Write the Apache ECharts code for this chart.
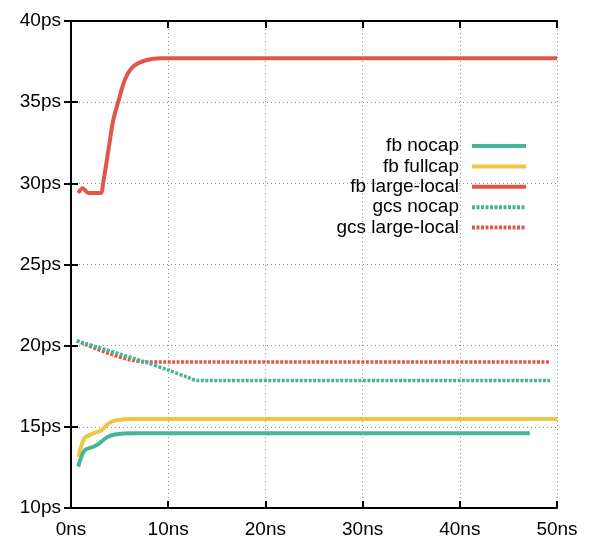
<!DOCTYPE html>
<html>
<head>
<meta charset="utf-8">
<script src="https://cdn.jsdelivr.net/npm/echarts@6/dist/echarts.min.js"></script>
<style>
  html, body { margin: 0; padding: 0; background: #fff; }
  #chart { width: 598px; height: 551px; }
</style>
</head>
<body>
<div id="chart"></div>
<script>
// values: [time in ns, latency in ps]
var xTicks = ['0ns', '10ns', '20ns', '30ns', '40ns', '50ns']
var yTicks = ['10ps', '15ps', '20ps', '25ps', '30ps', '35ps', '40ps']
var names = ['fb nocap', 'fb fullcap', 'fb large-local', 'gcs nocap', 'gcs large-local']

var fbNocap = [[0.75, 12.55], [1.4, 13.55], [2.3, 13.77], [2.8, 13.94], [3.7, 14.35], [4.5, 14.53], [6.4, 14.6], [47.2, 14.6]]
var fbFullcap = [[0.75, 13.15], [1.4, 14.3], [2.3, 14.6], [3.15, 14.8], [3.85, 15.2], [4.7, 15.4], [6.4, 15.48], [50, 15.48]]
var fbLargeLocal = [[0.75, 29.4], [1.2, 29.7], [1.8, 29.4], [3.05, 29.4], [3.3, 30.0], [3.85, 32.05], [4.35, 33.9], [4.9, 35.1], [5.55, 36.4], [6.4, 37.2], [7.8, 37.6], [9.2, 37.7], [50, 37.7]]
var gcsNocap = [[0.6, 20.3], [7.6, 19.0], [10, 18.5], [12, 18.05], [13, 17.85], [49.3, 17.85]]
var gcsLargeLocal = [[0.6, 20.3], [7.6, 19.0], [49.3, 19.0]]

var colors = ['#44b596', '#f0c543', '#e0574a', '#44b596', '#e0574a']
var allData = [fbNocap, fbFullcap, fbLargeLocal, gcsNocap, gcsLargeLocal]
var dotted = [false, false, false, true, true]

var chart = echarts.init(document.getElementById('chart'))
var font = 'Liberation Sans, Arial, sans-serif'

var series = names.map(function (n, i) {
    return {
        name: n,
        type: 'line',
        showSymbol: false,
        symbol: 'none',
        smooth: 0.3,
        lineStyle: {
            color: colors[i],
            width: dotted[i] ? 3.5 : 4,
            type: dotted[i] ? [3, 1.5] : 'solid',
            cap: 'butt'
        },
        itemStyle: { color: colors[i] },
        z: 5 - i,
        data: allData[i]
    }
})

var option = {
    animation: false,
    textStyle: { fontFamily: font },
    grid: { left: 71, right: 41, top: 21, bottom: 43 },
    legend: {
        data: names,
        orient: 'vertical',
        align: 'right',
        right: 65,
        top: 131,
        itemWidth: 54,
        itemHeight: 20,
        itemGap: 0.4,
        itemStyle: { opacity: 0 },
        lineStyle: { width: 4 },
        textStyle: { fontSize: 19, lineHeight: 20, color: '#000', fontFamily: font, padding: [0, 8, 0, 0] }
    },
    xAxis: [
        {
            type: 'value', min: 0, max: 50, interval: 10,
            axisLine: { lineStyle: { color: '#000', width: 2 } },
            axisTick: { inside: true, length: 7, lineStyle: { color: '#000', width: 2 } },
            axisLabel: {
                color: '#000', fontSize: 19, margin: 12, fontFamily: font,
                formatter: function (v) { return xTicks[v / 10] }
            },
            splitLine: { show: true, lineStyle: { color: '#888', width: 1, type: [1, 3] } }
        },
        {
            type: 'value', min: 0, max: 50, interval: 10, position: 'top',
            axisLine: { lineStyle: { color: '#000', width: 2 } },
            axisTick: { inside: true, length: 7, lineStyle: { color: '#000', width: 2 } },
            axisLabel: { show: false },
            splitLine: { show: false }
        }
    ],
    yAxis: [
        {
            type: 'value', min: 10, max: 40, interval: 5,
            axisLine: { show: true, lineStyle: { color: '#000', width: 2 } },
            axisTick: { show: true, inside: true, length: 7, lineStyle: { color: '#000', width: 2 } },
            axisLabel: {
                color: '#000', fontSize: 19, margin: 10, fontFamily: font,
                formatter: function (v) { return yTicks[(v - 10) / 5] }
            },
            splitLine: { show: true, lineStyle: { color: '#888', width: 1, type: [1, 3] } }
        },
        {
            type: 'value', min: 10, max: 40, interval: 5, position: 'right',
            axisLine: { show: true, lineStyle: { color: '#000', width: 2 } },
            axisTick: { show: true, inside: true, length: 7, lineStyle: { color: '#000', width: 2 } },
            axisLabel: { show: false },
            splitLine: { show: false }
        }
    ],
    series: series
}
chart.setOption(option)
</script>
</body>
</html>
